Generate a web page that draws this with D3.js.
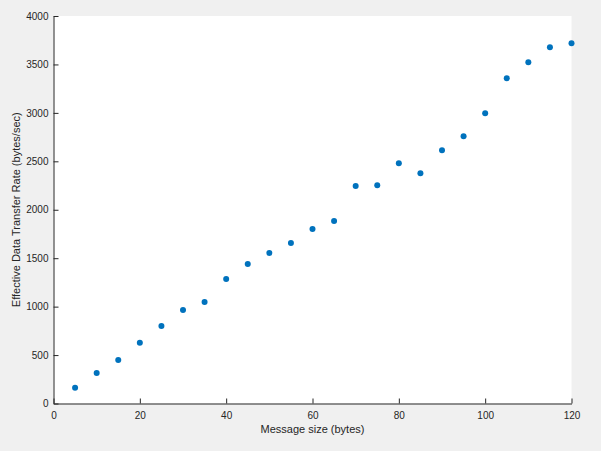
<!DOCTYPE html>
<html>
<head>
<meta charset="utf-8">
<script src="https://cdn.jsdelivr.net/npm/d3@7"></script>
<style>
  html, body { margin: 0; padding: 0; background: #f0f0f0; }
  svg { display: block; }
  .tick text { font-family: "Liberation Sans", Arial, sans-serif; font-size: 10px; fill: #262626; }
  .label { font-family: "Liberation Sans", Arial, sans-serif; font-size: 11px; fill: #262626; }
</style>
</head>
<body>
<script>
'use strict';

// message sizes (bytes)
var messageSize = [5, 10, 15, 20, 25, 30, 35, 40, 45, 50, 55, 60,
                   65, 70, 75, 80, 85, 90, 95, 100, 105, 110, 115, 120];
// effective data transfer rate (bytes/sec)
var transferRate = [162, 316, 450, 626, 801, 966, 1048, 1285, 1440, 1553, 1657, 1801,
                    1883, 2244, 2254, 2481, 2378, 2615, 2760, 2997, 3358, 3523, 3677, 3718];

var xTicks = [0, 20, 40, 60, 80, 100, 120];
var yTicks = [0, 500, 1000, 1500, 2000, 2500, 3000, 3500, 4000];

/************************ layout ****************************/

var width = 601, height = 451;
var plotLeft = 53.5, plotRight = 571.5, plotTop = 16, plotBottom = 403.5;

var svg = d3.select("body").append("svg")
  .attr("width", width)
  .attr("height", height);

svg.append("rect")
  .attr("x", plotLeft).attr("y", plotTop)
  .attr("width", plotRight - plotLeft).attr("height", plotBottom - plotTop)
  .style("fill", "#fff");

var x = d3.scaleLinear().domain([0, 120]).range([plotLeft, plotRight]);
var y = d3.scaleLinear().domain([0, 4000]).range([plotBottom, plotTop]);

/************************ axes ******************************/

svg.append("g")
  .attr("transform", "translate(0," + plotBottom + ")")
  .call(d3.axisBottom(x).tickValues(xTicks).tickFormat(d3.format("d"))
    .tickSizeInner(-5).tickSizeOuter(0).tickPadding(8));

svg.append("g")
  .attr("transform", "translate(" + plotLeft + ",0)")
  .call(d3.axisLeft(y).tickValues(yTicks).tickFormat(d3.format("d"))
    .tickSizeInner(-5).tickSizeOuter(0).tickPadding(5));

svg.selectAll(".domain").style("stroke", "#262626");
svg.selectAll(".tick line").style("stroke", "#262626");

/************************ points ****************************/

svg.append("g").selectAll("circle")
  .data(messageSize)
  .enter().append("circle")
  .attr("cx", function(d) { return x(d); })
  .attr("cy", function(d, i) { return y(transferRate[i]); })
  .attr("r", 3)
  .style("fill", "#0072bd");

/************************ labels ****************************/

svg.append("text")
  .attr("class", "label")
  .attr("x", (plotLeft + plotRight) / 2)
  .attr("y", 433)
  .attr("text-anchor", "middle")
  .text("Message size (bytes)");

svg.append("text")
  .attr("class", "label")
  .attr("transform", "translate(20," + ((plotTop + plotBottom) / 2) + ") rotate(-90)")
  .attr("text-anchor", "middle")
  .text("Effective Data Transfer Rate (bytes/sec)");
</script>
</body>
</html>
